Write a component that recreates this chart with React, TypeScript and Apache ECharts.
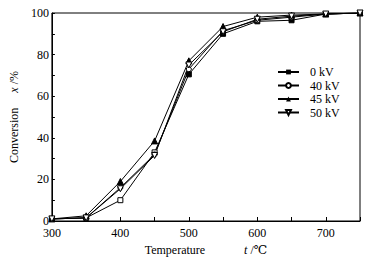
import React, { useEffect, useRef } from "react";
import * as echarts from "echarts";

const temperatures = [300, 350, 400, 450, 500, 550, 600, 650, 700, 750];
const seriesNames = ["0 kV", "40 kV", "45 kV", "50 kV"];
const conv0kV = [1, 1.5, 10, 33, 70.5, 90, 96, 96.5, 99.5, 100];
const conv40kV = [1, 1.5, 16, 32, 73, 91.5, 96.5, 98, 99.5, 100];
const conv45kV = [1, 2.5, 19, 38.5, 77, 93.5, 98, 99, 99.5, 100];
const conv50kV = [1, 1.5, 15.5, 31.5, 75, 91, 97, 98.5, 99.5, 100];

const FONT = "'Liberation Serif', 'DejaVu Serif', serif";

export default function App() {
  const ref = useRef<HTMLDivElement>(null);
  useEffect(() => {
    if (!ref.current) return;
    const chart = echarts.init(ref.current, null, { renderer: "svg" });
    const pair = (vals: number[]) => temperatures.map((t, i) => [t, vals[i]]);
    const downTri = "path://M0,0 L10,0 L5,9 Z";
    const base = {
      type: "line",
      symbolSize: 6,
      lineStyle: { color: "#000", width: 1 },
      emphasis: { disabled: true },
    };
    chart.setOption({
      animation: false,
      grid: {
        left: 44,
        right: 11,
        top: 13,
        bottom: 40,
        show: true,
        borderColor: "#000",
        borderWidth: 1,
      },
      legend: {
        orient: "vertical",
        left: 272,
        top: 61,
        itemWidth: 21,
        itemHeight: 6,
        itemGap: 1.5,
        textStyle: { fontFamily: FONT, fontSize: 12, color: "#000", padding: [0, 0, 0, 6] },
        data: seriesNames,
      },
      xAxis: {
        type: "value",
        min: 300,
        max: 750,
        interval: 50,
        name: "Temperature             {i|t} /℃",
        nameLocation: "middle",
        nameGap: 20,
        nameTextStyle: {
          fontFamily: FONT,
          fontSize: 12,
          color: "#000",
          rich: { i: { fontFamily: FONT, fontSize: 12, fontStyle: "italic", color: "#000" } },
        },
        axisLine: { lineStyle: { color: "#000" } },
        axisTick: { inside: true, length: 4, lineStyle: { color: "#000" } },
        axisLabel: {
          margin: 6,
          fontFamily: FONT,
          fontSize: 12,
          color: "#000",
          formatter: (v: number) => (v % 100 === 0 ? String(v) : ""),
        },
        splitLine: { show: false },
      },
      yAxis: {
        type: "value",
        min: 0,
        max: 100,
        interval: 10,
        name: "Conversion     {i|x} /%",
        nameLocation: "middle",
        nameGap: 28,
        nameTextStyle: {
          fontFamily: FONT,
          fontSize: 12,
          color: "#000",
          rich: { i: { fontFamily: FONT, fontSize: 12, fontStyle: "italic", color: "#000" } },
        },
        axisLine: { show: true, lineStyle: { color: "#000" } },
        axisTick: { inside: true, length: 3, lineStyle: { color: "#000" } },
        axisLabel: {
          margin: 3,
          fontFamily: FONT,
          fontSize: 12,
          color: "#000",
          formatter: (v: number) => (v % 20 === 0 ? String(v) : ""),
        },
        splitLine: { show: false },
      },
      series: [
        {
          ...base,
          name: seriesNames[0],
          symbol: "rect",
          symbolSize: 5,
          itemStyle: { color: "#000", borderColor: "#000" },
          data: pair(conv0kV).map((p, i) =>
            i === 2 || i === 3
              ? { value: p, itemStyle: { color: "#fff", borderColor: "#000", borderWidth: 1 } }
              : p
          ),
        },
        {
          ...base,
          name: seriesNames[1],
          symbol: "circle",
          symbolSize: 5,
          itemStyle: { color: "#fff", borderColor: "#000", borderWidth: 1 },
          data: pair(conv40kV),
        },
        {
          ...base,
          name: seriesNames[2],
          symbol: "triangle",
          symbolSize: 6,
          itemStyle: { color: "#000", borderColor: "#000" },
          data: pair(conv45kV),
        },
        {
          ...base,
          name: seriesNames[3],
          symbol: downTri,
          symbolSize: 6,
          itemStyle: { color: "#fff", borderColor: "#000", borderWidth: 1 },
          data: pair(conv50kV),
        },
      ],
    });
    return () => chart.dispose();
  }, []);
  return <div ref={ref} style={{ width: 371, height: 261, position: "absolute", left: 0, top: 0, background: "#fff" }} />;
}
